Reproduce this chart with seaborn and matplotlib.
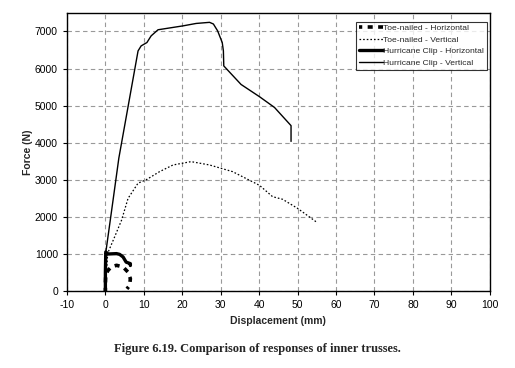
import matplotlib
matplotlib.use("Agg")
import matplotlib.pyplot as plt
import pandas as pd
import seaborn as sns

# Toe-nailed - Horizontal (thick dashed)
tn_h_disp = [0.0, 0.0, 0.1, 0.7, 1.5, 2.9, 4.6, 5.9, 6.5, 6.3, 5.6]
tn_h_force = [0, 200, 450, 560, 650, 695, 650, 510, 335, 150, 60]

# Toe-nailed - Vertical (thin dotted)
tn_v_disp = [0.0, 0.6, 2.4, 4.2, 5.9, 8.5, 10.6, 14.1, 17.6, 22.3, 27.1, 33.1, 40.1,
             43.5, 46.1, 50.0, 55.2]
tn_v_force = [0, 1020, 1460, 1910, 2500, 2910, 3000, 3220, 3400, 3490, 3400, 3220,
              2850, 2545, 2475, 2230, 1840]

# Hurricane Clip - Horizontal (thick solid)
hc_h_disp = [0.0, 0.0, 0.1, 0.7, 2.9, 3.7, 4.6, 5.4, 6.5, 6.5]
hc_h_force = [0, 500, 1055, 1000, 1010, 990, 920, 780, 740, 690]

# Hurricane Clip - Vertical (thin solid)
hc_v_disp = [0.0, 0.05, 2.0, 3.5, 8.5, 9.3, 10.8, 11.9, 13.7, 20.2, 23.6, 27.1, 28.1,
             29.2, 30.4, 30.7, 30.8, 35.3, 40.1, 44.0, 48.3, 48.3]
hc_v_force = [0, 1000, 2455, 3585, 6475, 6610, 6700, 6880, 7045, 7150, 7215, 7245, 7200,
              7015, 6700, 6475, 6070, 5570, 5240, 4950, 4460, 4035]

series = [
    ("Toe-nailed - Horizontal", tn_h_disp, tn_h_force, (0.5, (1.4, 1.5)), 2.6),
    ("Toe-nailed - Vertical", tn_v_disp, tn_v_force, (0, (1.3, 1.6)), 0.9),
    ("Hurricane Clip - Horizontal", hc_h_disp, hc_h_force, "-", 2.4),
    ("Hurricane Clip - Vertical", hc_v_disp, hc_v_force, "-", 1.0),
]

sns.set_style("ticks")
plt.rcParams["font.family"] = ["Liberation Sans", "DejaVu Sans"]
plt.rcParams["axes.unicode_minus"] = False

fig = plt.figure(figsize=(5.15, 3.68), dpi=100)
ax = fig.add_axes([0.130, 0.209, 0.821, 0.756])

for label, xs, ys, ls, lw in series:
    df = pd.DataFrame({"disp": xs, "force": ys})
    sns.lineplot(data=df, x="disp", y="force", sort=False, estimator=None,
                 color="black", linestyle=ls, linewidth=lw, label=label, ax=ax)

ax.set_xlim(-10, 100)
ax.set_ylim(0, 7500)
ax.set_xticks(range(-10, 101, 10))
ax.set_yticks(range(0, 7001, 1000))
ax.grid(True, color="#999999", linestyle=(0, (4, 3)), linewidth=0.8)
ax.tick_params(labelsize=7.5, length=3, width=0.8, direction="out", colors="black")
for s in ax.spines.values():
    s.set_linewidth(1.0)
    s.set_color("black")

ax.set_xlabel("Displacement (mm)", fontsize=7.5, fontweight="bold", labelpad=4)
ax.set_ylabel("Force (N)", fontsize=7.5, fontweight="bold", labelpad=1)

leg = ax.legend(loc="upper right", bbox_to_anchor=(0.993, 0.969), fontsize=6.1,
                frameon=True, fancybox=False, borderpad=0.3, labelspacing=0.45,
                handlelength=2.8, handletextpad=0.1, borderaxespad=0)
leg.get_frame().set_edgecolor("black")
leg.get_frame().set_linewidth(0.8)

fig.text(0.5, 0.052, "Figure 6.19. Comparison of responses of inner trusses.",
         ha="center", va="center", fontsize=9, fontweight="bold",
         family=["Liberation Serif", "DejaVu Serif"])

fig.savefig("out.png", dpi=100)
